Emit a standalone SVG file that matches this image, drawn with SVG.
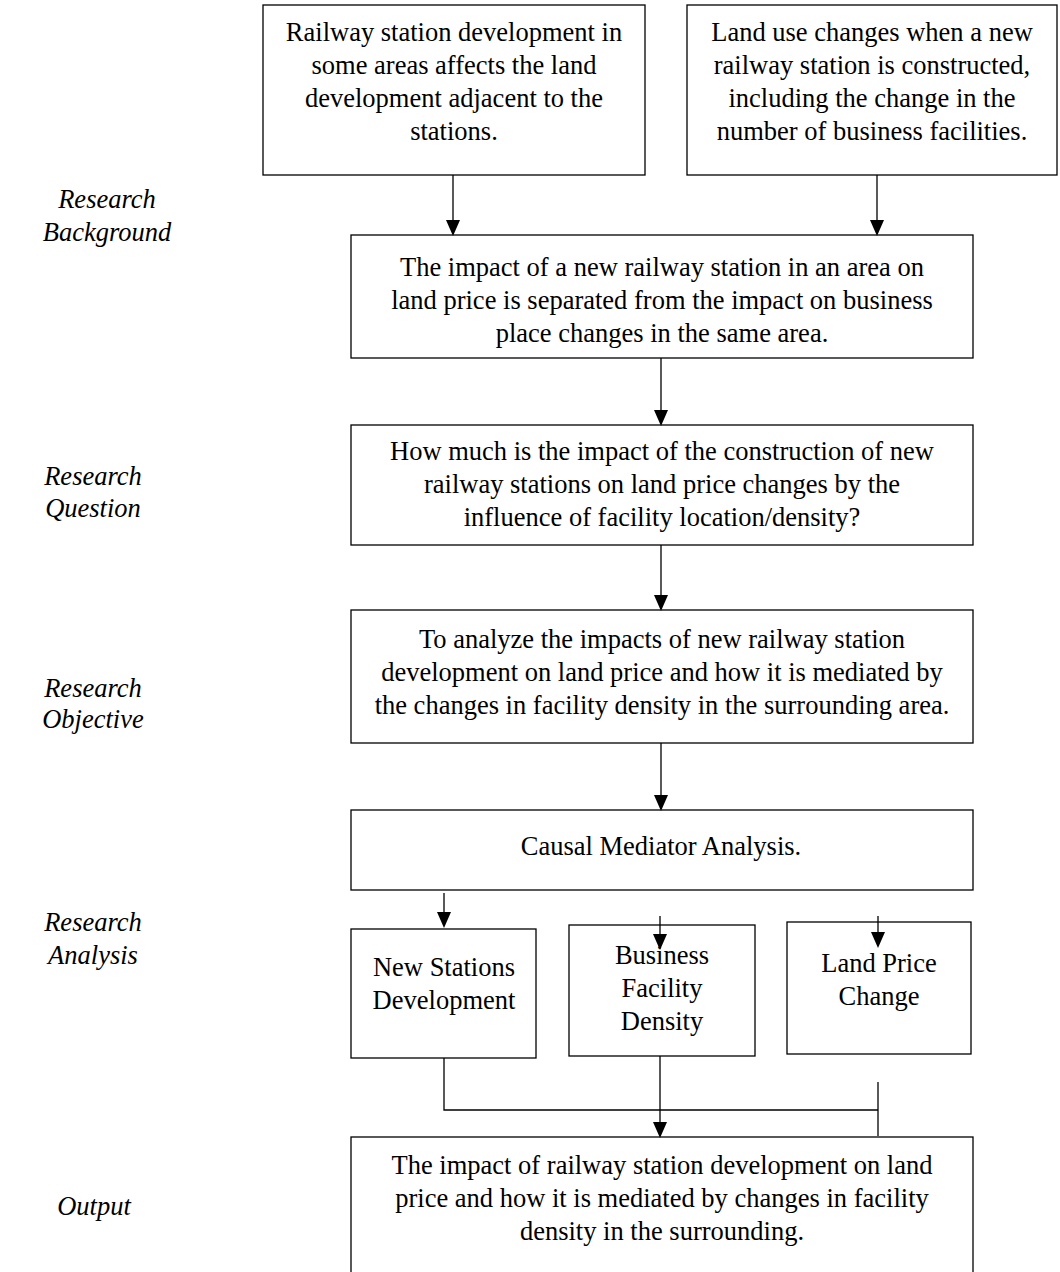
<svg xmlns="http://www.w3.org/2000/svg" width="1060" height="1272" viewBox="0 0 1060 1272">
<defs>
<style>
.b{fill:#fff;stroke:#000;stroke-width:1.3}
.t{font-family:"Liberation Serif","Times New Roman",serif;font-size:26.5px;fill:#000;text-anchor:middle}
.l{font-family:"Liberation Serif","Times New Roman",serif;font-size:26.5px;font-style:italic;fill:#000;text-anchor:middle}
.c{stroke:#000;stroke-width:1.3;fill:none}
.h{fill:#000}
</style>
</defs>
<rect width="1060" height="1272" fill="#fff"/>
<g id="labels">
<text class="l" x="107" y="208">Research</text><text class="l" x="107" y="241">Background</text>
<text class="l" x="93" y="485">Research</text><text class="l" x="93" y="517">Question</text>
<text class="l" x="93" y="697">Research</text><text class="l" x="93" y="728">Objective</text>
<text class="l" x="93" y="931">Research</text><text class="l" x="93" y="964">Analysis</text>
<text class="l" x="94" y="1215">Output</text>
</g>
<g id="n1"><rect class="b" x="263" y="5" width="382" height="170"/>
<text class="t" x="454" y="41">Railway station development in</text>
<text class="t" x="454" y="74">some areas affects the land</text>
<text class="t" x="454" y="107">development adjacent to the</text>
<text class="t" x="454" y="140">stations.</text></g>
<g id="n2"><rect class="b" x="687" y="5" width="370" height="170"/>
<text class="t" x="872" y="41">Land use changes when a new</text>
<text class="t" x="872" y="74">railway station is constructed,</text>
<text class="t" x="872" y="107">including the change in the</text>
<text class="t" x="872" y="140">number of business facilities.</text></g>
<g id="n3"><rect class="b" x="351" y="235" width="622" height="123"/>
<text class="t" x="662" y="276">The impact of a new railway station in an area on</text>
<text class="t" x="662" y="309">land price is separated from the impact on business</text>
<text class="t" x="662" y="342">place changes in the same area.</text></g>
<g id="n4"><rect class="b" x="351" y="425" width="622" height="120"/>
<text class="t" x="662" y="460">How much is the impact of the construction of new</text>
<text class="t" x="662" y="493">railway stations on land price changes by the</text>
<text class="t" x="662" y="526">influence of facility location/density?</text></g>
<g id="n5"><rect class="b" x="351" y="610" width="622" height="133"/>
<text class="t" x="662" y="648">To analyze the impacts of new railway station</text>
<text class="t" x="662" y="681">development on land price and how it is mediated by</text>
<text class="t" x="662" y="714">the changes in facility density in the surrounding area.</text></g>
<g id="n6"><rect class="b" x="351" y="810" width="622" height="80"/>
<text class="t" x="661" y="855">Causal Mediator Analysis.</text></g>
<g id="n7"><rect class="b" x="351" y="929" width="185" height="129"/>
<text class="t" x="444" y="976">New Stations</text>
<text class="t" x="444" y="1009">Development</text></g>
<g id="n8"><rect class="b" x="569" y="925" width="186" height="131"/>
<text class="t" x="662" y="964">Business</text>
<text class="t" x="662" y="997">Facility</text>
<text class="t" x="662" y="1030">Density</text></g>
<g id="n9"><rect class="b" x="787" y="922" width="184" height="132"/>
<text class="t" x="879" y="972">Land Price</text>
<text class="t" x="879" y="1005">Change</text></g>
<g id="n10"><rect class="b" x="351" y="1137" width="622" height="140"/>
<text class="t" x="662" y="1174">The impact of railway station development on land</text>
<text class="t" x="662" y="1207">price and how it is mediated by changes in facility</text>
<text class="t" x="662" y="1240">density in the surrounding.</text></g>
<g id="connectors">
<path class="c" d="M453,175V222"/><path class="h" d="M446,220H460L453,236Z"/>
<path class="c" d="M877,175V222"/><path class="h" d="M870,220H884L877,236Z"/>
<path class="c" d="M661,358V412"/><path class="h" d="M654,410H668L661,426Z"/>
<path class="c" d="M661,545V597"/><path class="h" d="M654,595H668L661,611Z"/>
<path class="c" d="M661,743V797"/><path class="h" d="M654,795H668L661,811Z"/>
<path class="c" d="M444,893V914"/><path class="h" d="M437,912H451L444,928Z"/>
<path class="c" d="M660,916V936"/><path class="h" d="M653,934H667L660,950Z"/>
<path class="c" d="M878,916V934"/><path class="h" d="M871,932H885L878,948Z"/>
<path class="c" d="M444,1058V1110H878"/>
<path class="c" d="M878,1082V1136"/>
<path class="c" d="M660,1056V1124"/><path class="h" d="M653,1122H667L660,1138Z"/>
</g>
</svg>
